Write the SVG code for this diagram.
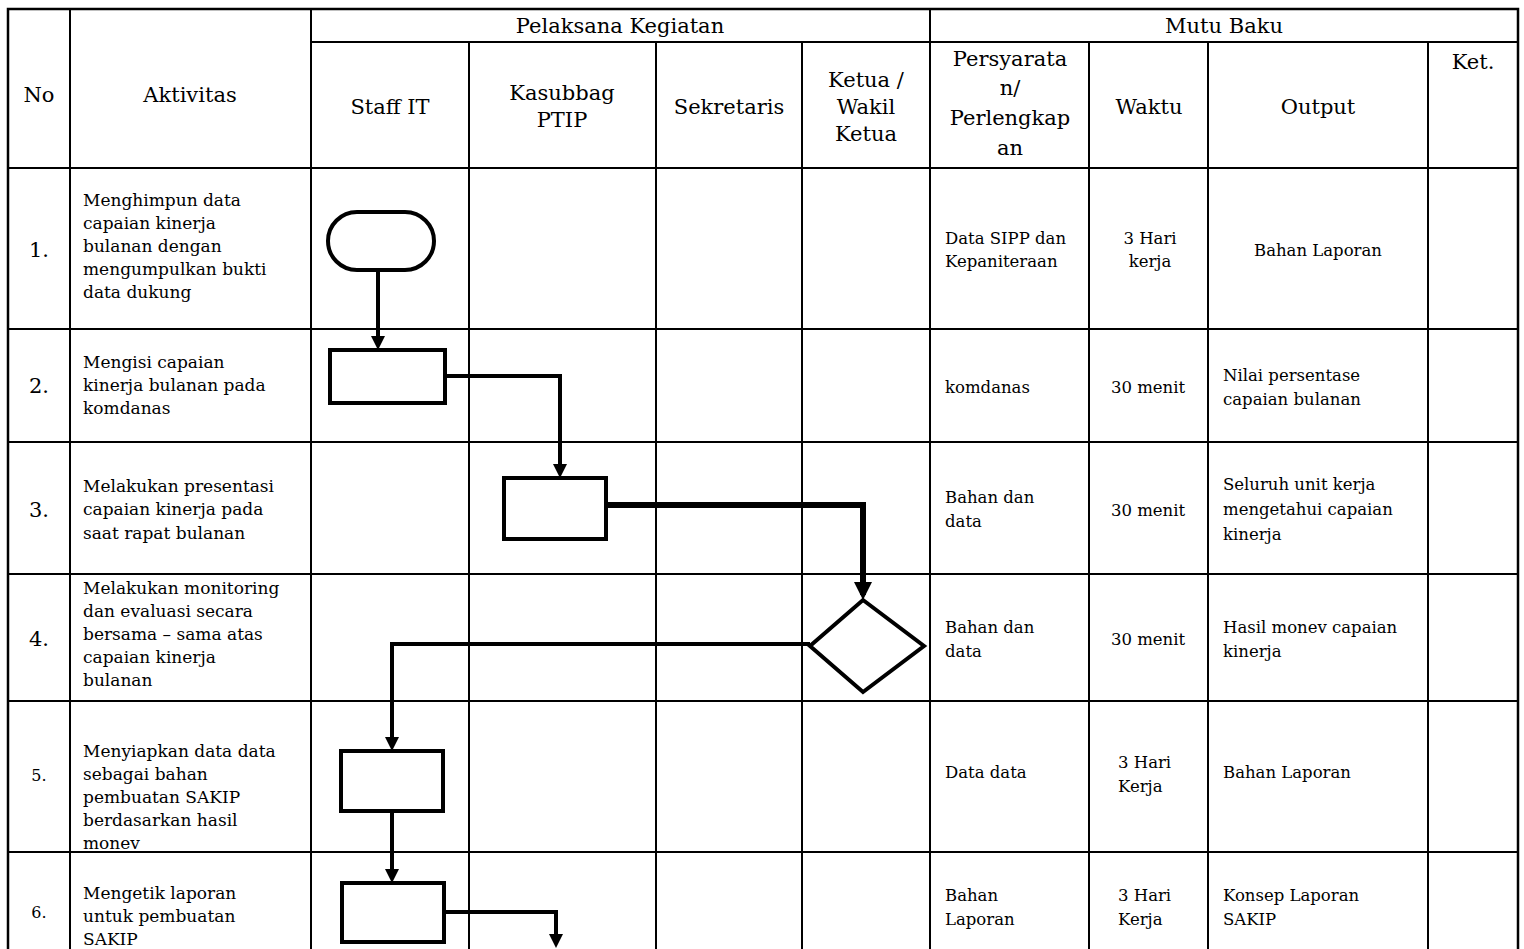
<svg xmlns="http://www.w3.org/2000/svg" width="1524" height="949" viewBox="0 0 1524 949">
<style>
.bg{fill:#fff}
.g{stroke:#000;stroke-width:2;fill:none}
.o{stroke:#000;stroke-width:2.5;fill:none}
.s{fill:#fff;stroke:#000;stroke-width:4}
.c{fill:none;stroke:#000;stroke-width:4}
.ct{fill:none;stroke:#000;stroke-width:6}
text{font-family:"DejaVu Serif","Liberation Serif",serif;fill:#000}
.h{font-size:21px}
.hm{font-size:21px;text-anchor:middle}
.b{font-size:17px}
.r{font-size:16.5px}
.rm{font-size:16.5px;text-anchor:middle}
.n{font-size:21px;text-anchor:middle}
.ns{font-size:16px;text-anchor:middle}
</style>
<defs>
<marker id="arr" markerUnits="userSpaceOnUse" markerWidth="14" markerHeight="14" refX="10" refY="7" orient="auto"><path d="M0,0 L14,7 L0,14 z" fill="#000"/></marker>
<marker id="arrT" markerUnits="userSpaceOnUse" markerWidth="18" markerHeight="18" refX="13" refY="9" orient="auto"><path d="M0,0 L18,9 L0,18 z" fill="#000"/></marker>
</defs>
<rect class="bg" x="0" y="0" width="1524" height="949"/>
<g id="grid">
<path class="o" d="M8,949 V9 H1518 V949"/>
<path class="g" d="M70,9 V949 M311,9 V949 M930,9 V949 M469,42 V949 M656,42 V949 M802,42 V949 M1089,42 V949 M1208,42 V949 M1428,42 V949"/>
<path class="g" d="M311,42 H1518 M8,168 H1518 M8,329 H1518 M8,442 H1518 M8,574 H1518 M8,701 H1518 M8,852 H1518"/>
</g>
<g id="header">
<text class="hm" x="39" y="102">No</text>
<text class="hm" x="190" y="102">Aktivitas</text>
<text class="hm" x="620" y="33">Pelaksana Kegiatan</text>
<text class="hm" x="1224" y="33">Mutu Baku</text>
<text class="hm" x="390" y="114">Staff IT</text>
<text class="hm" x="562" y="100">Kasubbag</text>
<text class="hm" x="562" y="127">PTIP</text>
<text class="hm" x="729" y="114">Sekretaris</text>
<text class="hm" x="866" y="87">Ketua /</text>
<text class="hm" x="866" y="114">Wakil</text>
<text class="hm" x="866" y="141">Ketua</text>
<text class="hm" x="1010" y="66">Persyarata</text>
<text class="hm" x="1010" y="95">n/</text>
<text class="hm" x="1010" y="125">Perlengkap</text>
<text class="hm" x="1010" y="155">an</text>
<text class="hm" x="1149" y="114">Waktu</text>
<text class="hm" x="1318" y="114">Output</text>
<text class="hm" x="1473" y="69">Ket.</text>
</g>
<g id="row1">
<text class="n" x="39" y="257">1.</text>
<text class="b" x="83" y="206">Menghimpun data</text>
<text class="b" x="83" y="229">capaian kinerja</text>
<text class="b" x="83" y="252">bulanan dengan</text>
<text class="b" x="83" y="275">mengumpulkan bukti</text>
<text class="b" x="83" y="298">data dukung</text>
<text class="r" x="945" y="244">Data SIPP dan</text>
<text class="r" x="945" y="267">Kepaniteraan</text>
<text class="rm" x="1150" y="244">3 Hari</text>
<text class="rm" x="1150" y="267">kerja</text>
<text class="rm" x="1318" y="256">Bahan Laporan</text>
</g>
<g id="row2">
<text class="n" x="39" y="393">2.</text>
<text class="b" x="83" y="368">Mengisi capaian</text>
<text class="b" x="83" y="391">kinerja bulanan pada</text>
<text class="b" x="83" y="414">komdanas</text>
<text class="r" x="945" y="393">komdanas</text>
<text class="rm" x="1148" y="393">30 menit</text>
<text class="r" x="1223" y="381">Nilai persentase</text>
<text class="r" x="1223" y="405">capaian bulanan</text>
</g>
<g id="row3">
<text class="n" x="39" y="517">3.</text>
<text class="b" x="83" y="492">Melakukan presentasi</text>
<text class="b" x="83" y="515">capaian kinerja pada</text>
<text class="b" x="83" y="539">saat rapat bulanan</text>
<text class="r" x="945" y="503">Bahan dan</text>
<text class="r" x="945" y="527">data</text>
<text class="rm" x="1148" y="516">30 menit</text>
<text class="r" x="1223" y="490">Seluruh unit kerja</text>
<text class="r" x="1223" y="515">mengetahui capaian</text>
<text class="r" x="1223" y="540">kinerja</text>
</g>
<g id="row4">
<text class="n" x="39" y="646">4.</text>
<text class="b" x="83" y="594">Melakukan monitoring</text>
<text class="b" x="83" y="617">dan evaluasi secara</text>
<text class="b" x="83" y="640">bersama – sama atas</text>
<text class="b" x="83" y="663">capaian kinerja</text>
<text class="b" x="83" y="686">bulanan</text>
<text class="r" x="945" y="633">Bahan dan</text>
<text class="r" x="945" y="657">data</text>
<text class="rm" x="1148" y="645">30 menit</text>
<text class="r" x="1223" y="633">Hasil monev capaian</text>
<text class="r" x="1223" y="657">kinerja</text>
</g>
<g id="row5">
<text class="ns" x="39" y="781">5.</text>
<text class="b" x="83" y="757">Menyiapkan data data</text>
<text class="b" x="83" y="780">sebagai bahan</text>
<text class="b" x="83" y="803">pembuatan SAKIP</text>
<text class="b" x="83" y="826">berdasarkan hasil</text>
<text class="b" x="83" y="849">monev</text>
<text class="r" x="945" y="778">Data data</text>
<text class="r" x="1118" y="768">3 Hari</text>
<text class="r" x="1118" y="792">Kerja</text>
<text class="r" x="1223" y="778">Bahan Laporan</text>
</g>
<g id="row6">
<text class="ns" x="39" y="918">6.</text>
<text class="b" x="83" y="899">Mengetik laporan</text>
<text class="b" x="83" y="922">untuk pembuatan</text>
<text class="b" x="83" y="945">SAKIP</text>
<text class="r" x="945" y="901">Bahan</text>
<text class="r" x="945" y="925">Laporan</text>
<text class="r" x="1118" y="901">3 Hari</text>
<text class="r" x="1118" y="925">Kerja</text>
<text class="r" x="1223" y="901">Konsep Laporan</text>
<text class="r" x="1223" y="925">SAKIP</text>
</g>
<g id="connectors">
<path class="c" d="M378,270 V346" marker-end="url(#arr)"/>
<path class="c" d="M445,376 H560 V474" marker-end="url(#arr)"/>
<path class="ct" d="M606,505 H863 V595" marker-end="url(#arrT)"/>
<path class="c" d="M810,644 H392 V747" marker-end="url(#arr)"/>
<path class="c" d="M392,811 V879" marker-end="url(#arr)"/>
<path class="c" d="M444,912 H556 V944" marker-end="url(#arr)"/>
</g>
<g id="n1"><rect class="s" x="328" y="212" width="106" height="58" rx="29" ry="29"/></g>
<g id="n2"><rect class="s" x="330" y="350" width="115" height="53"/></g>
<g id="n3"><rect class="s" x="504" y="478" width="102" height="61"/></g>
<g id="n4"><polygon class="s" points="863,600 924,646 863,692 810,646"/></g>
<g id="n5"><rect class="s" x="341" y="751" width="102" height="60"/></g>
<g id="n6"><rect class="s" x="342" y="883" width="102" height="59"/></g>
</svg>
